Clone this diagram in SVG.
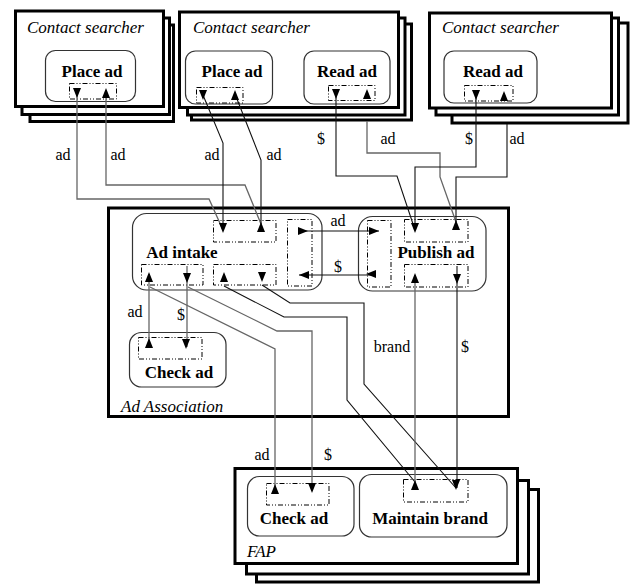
<svg xmlns="http://www.w3.org/2000/svg" width="631" height="584" viewBox="0 0 631 584" font-family="'Liberation Serif', 'Times New Roman', Times, serif">
<style>
.fr{fill:#fff;stroke:#000;stroke-width:3}
.nd{fill:#fff;stroke:#333;stroke-width:1.2}
.pt{fill:none;stroke:#000;stroke-width:1;stroke-dasharray:5 2 1 2 1 2}
.cg{fill:none;stroke:#666;stroke-width:1.3}
.ck{fill:none;stroke:#111;stroke-width:1.1}
.fl{font-family:'Liberation Serif','Times New Roman',Times,serif;font-style:italic;font-size:17px;fill:#000}
.nl{font-family:'Liberation Serif','Times New Roman',Times,serif;font-weight:bold;font-size:17px;text-anchor:middle;fill:#000}
.el{font-family:'Liberation Serif','Times New Roman',Times,serif;font-size:16px;text-anchor:middle;fill:#000}
.ah{fill:#000}
</style>
<defs>
<path id="dn" d="M-4,-10H4L0,0Z"/>
<path id="up" d="M-4,10H4L0,0Z"/>
<path id="rt" d="M-10,-4V4L0,0Z"/>
<path id="lf" d="M10,-4V4L0,0Z"/>
</defs>
<g id="contact-searcher-1">
<rect class="fr" x="30" y="25" width="143.5" height="96.5"/>
<rect class="fr" x="22" y="18" width="147.5" height="96.5"/>
<rect class="fr" x="15.5" y="11" width="148" height="95.5"/>
<text class="fl" x="27" y="33">Contact searcher</text>
</g>
<g id="contact-searcher-2">
<rect class="fr" x="191.5" y="24" width="220" height="96"/>
<rect class="fr" x="187.5" y="18" width="217.5" height="97"/>
<rect class="fr" x="179.5" y="12" width="219" height="95.5"/>
<text class="fl" x="193" y="33">Contact searcher</text>
</g>
<g id="contact-searcher-3">
<rect class="fr" x="452" y="23" width="176" height="100"/>
<rect class="fr" x="436" y="18" width="182.5" height="97"/>
<rect class="fr" x="429.5" y="13" width="182" height="95"/>
<text class="fl" x="442" y="33">Contact searcher</text>
</g>
<g id="ad-association">
<rect class="fr" x="108.5" y="208" width="400" height="208.5"/>
<text class="fl" x="121" y="412">Ad Association</text>
</g>
<g id="fap">
<rect class="fr" x="256.5" y="489.5" width="282" height="92.5"/>
<rect class="fr" x="246.5" y="480.5" width="282" height="93.5"/>
<rect class="fr" x="235" y="468.5" width="282.5" height="95"/>
<text class="fl" x="247" y="557">FAP</text>
</g>
<g id="place-ad-1">
<rect class="nd" x="45.5" y="50.5" width="90" height="51" rx="10"/>
<text class="nl" x="92" y="77">Place ad</text>
<rect class="pt" x="69.5" y="83.5" width="47" height="15.5"/>
</g>
<g id="place-ad-2">
<rect class="nd" x="185.5" y="51" width="87" height="53" rx="10"/>
<text class="nl" x="232" y="77">Place ad</text>
<rect class="pt" x="196.5" y="87.5" width="46.5" height="15.5"/>
</g>
<g id="read-ad-2">
<rect class="nd" x="304" y="51" width="86" height="53" rx="10"/>
<text class="nl" x="347" y="77">Read ad</text>
<rect class="pt" x="328.5" y="85.5" width="46.5" height="15"/>
</g>
<g id="read-ad-3">
<rect class="nd" x="444" y="51" width="93" height="52" rx="10"/>
<text class="nl" x="493" y="77">Read ad</text>
<rect class="pt" x="464.5" y="85.5" width="48.5" height="15.5"/>
</g>
<g id="ad-intake">
<rect class="nd" x="132.5" y="213.5" width="189.5" height="76.5" rx="14"/>
<text class="nl" x="182" y="258">Ad intake</text>
<rect class="pt" x="213.5" y="220.5" width="62.5" height="21.5"/>
<rect class="pt" x="141.5" y="264.5" width="61.5" height="20.5"/>
<rect class="pt" x="213.5" y="264.5" width="62.5" height="20.5"/>
<rect class="pt" x="287.5" y="219.5" width="24.5" height="66.5"/>
</g>
<g id="publish-ad">
<rect class="nd" x="358.5" y="216.5" width="127.5" height="74.5" rx="14"/>
<text class="nl" x="436" y="258">Publish ad</text>
<rect class="pt" x="367.5" y="220.5" width="23.5" height="66.5"/>
<rect class="pt" x="404.5" y="219.5" width="63.5" height="22.5"/>
<rect class="pt" x="404.5" y="264.5" width="63.5" height="22.5"/>
</g>
<g id="check-ad-1">
<rect class="nd" x="129.5" y="332.5" width="96.5" height="54.5" rx="12"/>
<text class="nl" x="179" y="378">Check ad</text>
<rect class="pt" x="138.5" y="337.5" width="63.5" height="21.5"/>
</g>
<g id="check-ad-2">
<rect class="nd" x="247.5" y="476.5" width="106.5" height="59.5" rx="12"/>
<text class="nl" x="294" y="524">Check ad</text>
<rect class="pt" x="266.5" y="483.5" width="62.5" height="21.5"/>
</g>
<g id="maintain-brand">
<rect class="nd" x="359.5" y="474.5" width="147.5" height="62.5" rx="12"/>
<text class="nl" x="430" y="524">Maintain brand</text>
<rect class="pt" x="403.5" y="479.5" width="64.5" height="22.5"/>
</g>
<g id="connectors">
<path class="cg" d="M77,95V199H209L223,230"/>
<path class="cg" d="M106,92V185H245L261,224"/>
<path class="ck" d="M203,95L223,143V230"/>
<path class="ck" d="M235,94L261,160V224"/>
<path class="ck" d="M336,95V176H397L415,230"/>
<path class="cg" d="M367,121V153H440V177L456,222"/>
<path class="ck" d="M476,95V167H415V230"/>
<path class="ck" d="M507,124V177H456V222"/>
<path class="ck" d="M299,231H379"/>
<path class="ck" d="M299,275H375"/>
<path class="cg" d="M149,274V347"/>
<path class="cg" d="M187,266V347"/>
<path class="cg" d="M150,287L275,349V486"/>
<path class="cg" d="M188,287L277,331H312V491"/>
<path class="ck" d="M224,286L284,317H347V400L415,482"/>
<path class="ck" d="M262,285L290,303H364V384L456,488"/>
<path class="cg" d="M415,275V482"/>
<path class="ck" d="M457,266V488"/>
<use class="ah" href="#dn" x="77" y="98"/>
<use class="ah" href="#up" x="106" y="88"/>
<use class="ah" href="#dn" x="203" y="100"/>
<use class="ah" href="#up" x="235" y="90"/>
<use class="ah" href="#dn" x="336" y="99"/>
<use class="ah" href="#up" x="367" y="89"/>
<use class="ah" href="#dn" x="476" y="100"/>
<use class="ah" href="#up" x="504" y="91"/>
<use class="ah" href="#dn" x="223" y="233"/>
<use class="ah" href="#up" x="261" y="222"/>
<use class="ah" href="#up" x="149" y="272"/>
<use class="ah" href="#dn" x="187" y="283"/>
<use class="ah" href="#up" x="224" y="272"/>
<use class="ah" href="#dn" x="262" y="282"/>
<use class="ah" href="#rt" x="308" y="231"/>
<use class="ah" href="#lf" x="299" y="275"/>
<use class="ah" href="#rt" x="379" y="231"/>
<use class="ah" href="#lf" x="366" y="274"/>
<use class="ah" href="#dn" x="415" y="233"/>
<use class="ah" href="#up" x="456" y="220"/>
<use class="ah" href="#up" x="415" y="273"/>
<use class="ah" href="#dn" x="457" y="284"/>
<use class="ah" href="#up" x="149" y="338"/>
<use class="ah" href="#dn" x="186" y="349"/>
<use class="ah" href="#up" x="275" y="484"/>
<use class="ah" href="#dn" x="312" y="493"/>
<use class="ah" href="#up" x="415" y="480"/>
<use class="ah" href="#dn" x="456" y="490"/>
<text class="el" x="63" y="160">ad</text>
<text class="el" x="118" y="160">ad</text>
<text class="el" x="212" y="160">ad</text>
<text class="el" x="274" y="160">ad</text>
<text class="el" x="321" y="144">$</text>
<text class="el" x="388" y="144">ad</text>
<text class="el" x="469" y="144">$</text>
<text class="el" x="517" y="144">ad</text>
<text class="el" x="338" y="226">ad</text>
<text class="el" x="338" y="272">$</text>
<text class="el" x="135" y="317">ad</text>
<text class="el" x="181" y="320">$</text>
<text class="el" x="392" y="352">brand</text>
<text class="el" x="465" y="352">$</text>
<text class="el" x="262" y="460">ad</text>
<text class="el" x="328" y="460">$</text>
</g>
</svg>
